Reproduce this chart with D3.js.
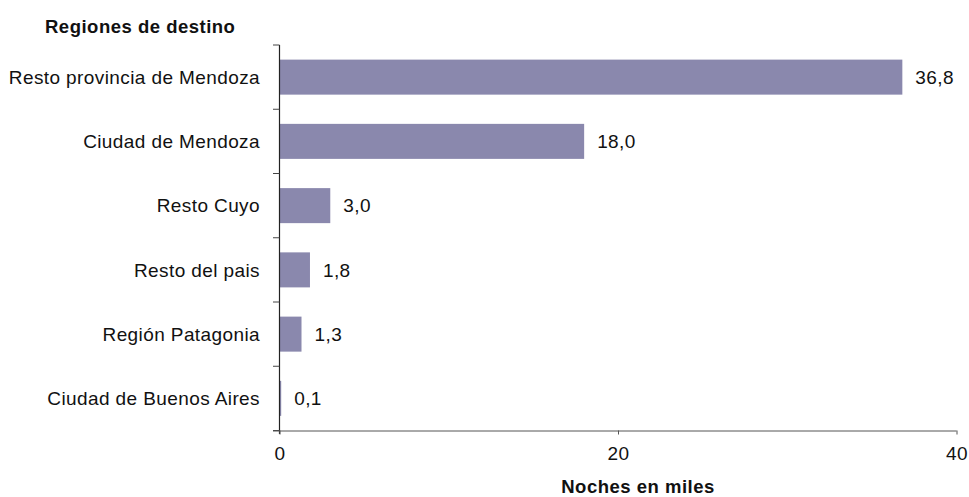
<!DOCTYPE html>
<html><head><meta charset="utf-8">
<script src="https://cdn.jsdelivr.net/npm/d3@7"></script>
<style>body{margin:0;background:#fff}svg{display:block}</style>
</head><body>
<script>
const categories = ["Resto provincia de Mendoza","Ciudad de Mendoza","Resto Cuyo","Resto del pais","Región Patagonia","Ciudad de Buenos Aires"];
const values = [36.8, 18.0, 3.0, 1.8, 1.3, 0.1];
const xTicks = [0, 20, 40];

const W = 969, H = 497;
const svg = d3.select("body").append("svg").attr("width", W).attr("height", H);
const font = "'Liberation Sans', Arial, Helvetica, sans-serif";
const fs = 19;

const x = d3.scaleLinear().domain([0, 40]).range([279.5, 956.5]);
const y = d3.scaleBand().domain(categories).range([45, 430.5]).paddingInner(0.455).paddingOuter(0.2275);

// bars
svg.selectAll("rect.bar").data(values).join("rect")
  .attr("class", "bar")
  .attr("x", x(0))
  .attr("y", (d, i) => y(categories[i]))
  .attr("width", d => x(d) - x(0))
  .attr("height", y.bandwidth())
  .attr("fill", "#8a88ad");

// value labels
svg.selectAll("text.val").data(values).join("text")
  .attr("class", "val")
  .attr("x", d => x(d) + 13)
  .attr("y", (d, i) => y(categories[i]) + y.bandwidth() / 2)
  .attr("dy", "0.35em")
  .attr("font-family", font).attr("font-size", fs).attr("letter-spacing", 0.4).attr("fill", "#111")
  .text(d => d3.format(".1f")(d).replace(".", ","));

// y axis
const yAxisG = svg.append("g");
yAxisG.append("line").attr("x1", 279.5).attr("x2", 279.5).attr("y1", 45).attr("y2", 434).attr("stroke", "#222").attr("stroke-width", 1.2);
const bounds = d3.range(categories.length + 1).map(i => 45 + i * (385.5 / categories.length));
yAxisG.selectAll("line.tk").data(bounds).join("line").attr("class", "tk")
  .attr("x1", 273).attr("x2", 279.5).attr("y1", d => d).attr("y2", d => d)
  .attr("stroke", "#444");
yAxisG.selectAll("text").data(categories).join("text")
  .attr("x", 260).attr("y", d => y(d) + y.bandwidth() / 2).attr("dy", "0.35em")
  .attr("text-anchor", "end")
  .attr("font-family", font).attr("font-size", fs).attr("letter-spacing", 0.4).attr("fill", "#111")
  .text(d => d);

// x axis
const xAxisG = svg.append("g").attr("transform", "translate(0,430.5)");
xAxisG.call(d3.axisBottom(x).tickValues(xTicks).tickSize(4).tickSizeOuter(0).tickFormat(d3.format("d")));
xAxisG.select(".domain").attr("d", "M273,0.5H956.5").attr("stroke", "#555");
xAxisG.selectAll(".tick line").attr("stroke", "#555");
xAxisG.selectAll(".tick text").attr("font-family", font).attr("font-size", fs).attr("letter-spacing", 0.4).attr("fill", "#111")
  .attr("y", 29.5).attr("dy", 0);

// titles
svg.append("text").attr("x", 45).attr("y", 32.5)
  .attr("font-family", font).attr("font-size", 18.5).attr("letter-spacing", 0.5).attr("font-weight", "bold").attr("fill", "#111")
  .text("Regiones de destino");
svg.append("text").attr("x", 638).attr("y", 493).attr("text-anchor", "middle")
  .attr("font-family", font).attr("font-size", 18.5).attr("letter-spacing", 0.5).attr("font-weight", "bold").attr("fill", "#111")
  .text("Noches en miles");
</script>
</body></html>
